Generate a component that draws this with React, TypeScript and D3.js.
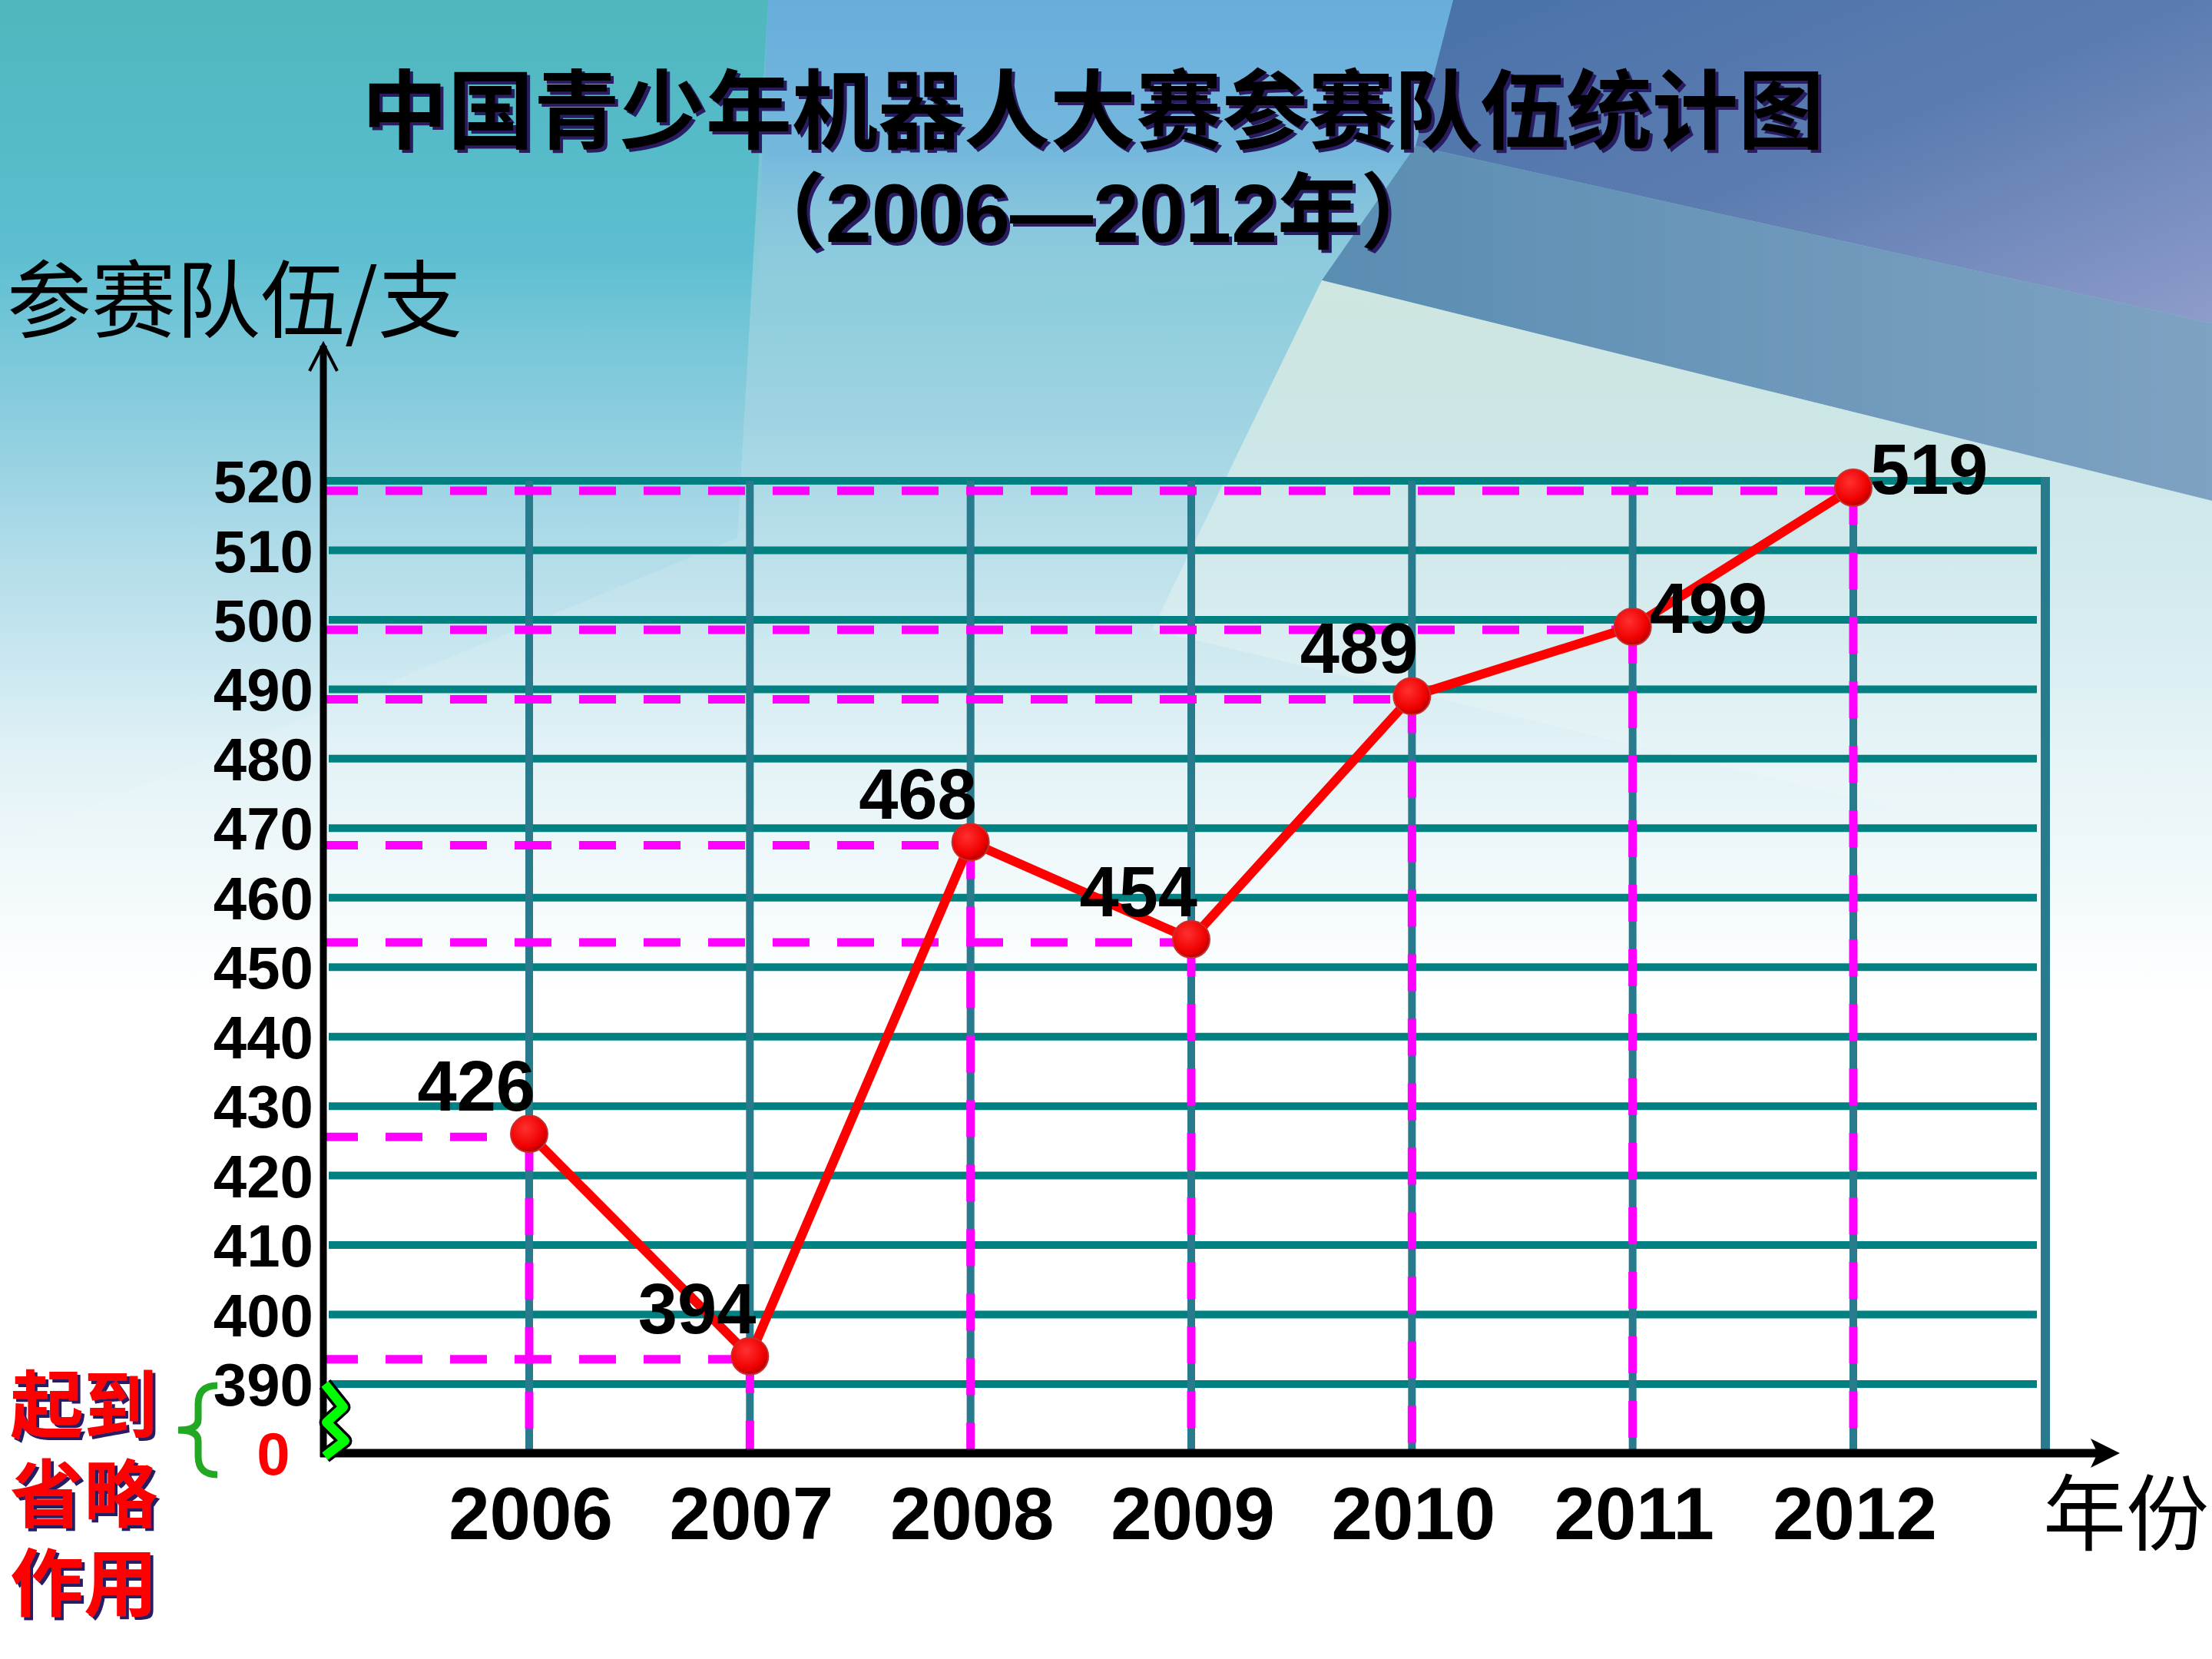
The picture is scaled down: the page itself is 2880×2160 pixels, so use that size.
import React from "react";
import * as d3 from "d3";

// 数据
const years = ["2006", "2007", "2008", "2009", "2010", "2011", "2012"];
const teams = [426, 394, 468, 454, 489, 499, 519];
const yTicks = [390, 400, 410, 420, 430, 440, 450, 460, 470, 480, 490, 500, 510, 520];
const titleText = "中国青少年机器人大赛参赛队伍统计图";
const subtitleText = "（2006—2012年）";
const yAxisTitle = "参赛队伍/支";
const xAxisTitle = "年份";
const noteLines = ["起到", "省略", "作用"];

const W = 2880;
const H = 2160;
const axisX = 421;
const axisY = 1892;
const gridRight = 2652;
const frameX = 2663;

const numFont = "'Liberation Sans', Arial, sans-serif";
const cjkFont = "'Noto Sans CJK SC', 'Noto Sans', sans-serif";

type Pt = { year: string; value: number };

export default function App() {
  const data: Pt[] = years.map((year, i) => ({ year, value: teams[i] }));

  const x = d3.scalePoint<string>().domain(years).range([689, 2413]);
  // broken axis: 0 sits one step below 390
  const y = d3.scaleLinear().domain([0, 390, 520]).range([axisY, 1802, 626]);

  const line = d3
    .line<Pt>()
    .x((d) => x(d.year)!)
    .y((d) => y(d.value));

  const top = y(520);
  const zig = `M${axisX + 2},${y(390)} L${axisX + 26},${y(390) + 30} L${axisX + 4},${y(390) + 50} L${axisX + 28},${y(390) + 74} L${axisX + 2},${axisY + 4}`;

  return (
    <svg
      width={W}
      height={H}
      viewBox={`0 0 ${W} ${H}`}
      style={{ position: "absolute", left: 0, top: 0, display: "block" }}
    >
      <defs>
        <linearGradient id="bg" x1="0" y1="0" x2="0" y2="1">
          <stop offset="0" stopColor="#62bccb" />
          <stop offset="0.25" stopColor="#9fd3e2" />
          <stop offset="0.45" stopColor="#e2f2f6" />
          <stop offset="0.6" stopColor="#ffffff" />
          <stop offset="1" stopColor="#ffffff" />
        </linearGradient>
        <linearGradient id="teal" x1="0" y1="0" x2="0" y2="1">
          <stop offset="0" stopColor="#4fb7bd" />
          <stop offset="0.3" stopColor="#58bdd0" stopOpacity="0.9" />
          <stop offset="0.65" stopColor="#9cd4e6" stopOpacity="0.35" />
          <stop offset="1" stopColor="#d8eef6" stopOpacity="0" />
        </linearGradient>
        <linearGradient id="sky" x1="0" y1="0" x2="0" y2="1">
          <stop offset="0" stopColor="#68aedc" />
          <stop offset="0.5" stopColor="#74b6de" stopOpacity="0.9" />
          <stop offset="1" stopColor="#a8d4e6" stopOpacity="0" />
        </linearGradient>
        <linearGradient id="dark" x1="0" y1="0" x2="1" y2="1">
          <stop offset="0" stopColor="#4872aa" />
          <stop offset="0.5" stopColor="#5c7cb0" />
          <stop offset="1" stopColor="#8e9ccb" />
        </linearGradient>
        <linearGradient id="band" x1="0" y1="0" x2="1" y2="0">
          <stop offset="0" stopColor="#5a8db2" />
          <stop offset="1" stopColor="#7ea2c2" />
        </linearGradient>
        <linearGradient id="pale" x1="0" y1="0" x2="0" y2="1">
          <stop offset="0" stopColor="#cfe6e0" />
          <stop offset="1" stopColor="#ffffff" stopOpacity="0" />
        </linearGradient>
        <radialGradient id="dot" cx="0.4" cy="0.35" r="0.7">
          <stop offset="0" stopColor="#ff3030" />
          <stop offset="0.7" stopColor="#f00000" />
          <stop offset="1" stopColor="#a80000" />
        </radialGradient>
        <filter id="shadow" x="-5%" y="-10%" width="110%" height="120%">
          <feDropShadow dx="4" dy="4" stdDeviation="0" floodColor="#2b1b60" floodOpacity="1" />
        </filter>
      </defs>

      {/* background */}
      <rect x={0} y={0} width={W} height={H} fill="url(#bg)" />
      <path d="M0,0 H1000 L960,700 L0,1100 Z" fill="url(#teal)" />
      <path d="M1000,0 H1892 L1843,190 L1721,365 Q1300,390 985,400 Z" fill="url(#sky)" />
      <path d="M1892,0 H2880 V421 L1843,190 Z" fill="url(#dark)" />
      <path d="M1843,190 L2880,421 V652 L1721,365 Z" fill="url(#band)" />
      <path d="M1721,365 L2880,652 V1150 L1500,820 Z" fill="url(#pale)" />

      {/* teal horizontal grid */}
      {yTicks.map((t) => (
        <line
          key={"h" + t}
          x1={t === 520 ? axisX + 4 : 428}
          x2={t === 520 ? frameX + 5 : gridRight}
          y1={y(t)}
          y2={y(t)}
          stroke="#008080"
          strokeWidth={10}
        />
      ))}
      {/* teal vertical grid */}
      {years.map((yr) => (
        <line
          key={"v" + yr}
          x1={x(yr)}
          x2={x(yr)}
          y1={top}
          y2={axisY}
          stroke="#277b8c"
          strokeWidth={10}
        />
      ))}
      <line x1={frameX} x2={frameX} y1={top - 5} y2={axisY} stroke="#277b8c" strokeWidth={12} />

      {/* magenta guide dashes */}
      {data.map((d) => (
        <g key={"m" + d.year} stroke="#ff00ff" strokeWidth={11} strokeDasharray="48 36">
          <line x1={418} x2={x(d.year)} y1={y(d.value) + 4} y2={y(d.value) + 4} />
          <line x1={x(d.year)} x2={x(d.year)} y1={y(d.value)} y2={axisY} />
        </g>
      ))}

      {/* axes */}
      <line x1={axisX} x2={axisX} y1={450} y2={axisY + 5} stroke="#000" strokeWidth={9} />
      <path
        d={`M${axisX - 18},${483} L${axisX},${448} L${axisX + 18},${483}`}
        fill="none"
        stroke="#000"
        strokeWidth={4}
      />
      <line x1={axisX - 4} x2={2735} y1={axisY} y2={axisY} stroke="#000" strokeWidth={11} />
      <path
        d={`M2760,${axisY} L2722,${axisY - 19} L2731,${axisY} L2722,${axisY + 19} Z`}
        fill="#000"
      />

      {/* break zigzag */}
      <path d={zig} fill="none" stroke="#000" strokeWidth={19} strokeLinejoin="round" />
      <path d={zig} fill="none" stroke="#00ff00" strokeWidth={12} strokeLinejoin="round" />

      {/* y tick labels */}
      {yTicks.map((t) => (
        <text
          key={"yl" + t}
          x={408}
          y={y(t)}
          dy="0.36em"
          textAnchor="end"
          fontFamily={numFont}
          fontWeight="bold"
          fontSize={78}
          fill="#000"
        >
          {t}
        </text>
      ))}
      <text
        x={356}
        y={axisY}
        dy="0.36em"
        textAnchor="middle"
        fontFamily={numFont}
        fontWeight="bold"
        fontSize={78}
        fill="#ff0000"
      >
        0
      </text>

      {/* green brace */}
      <path
        d={`M283,1804 Q258,1804 258,1828 L258,1848 Q258,1862 232,1862 Q258,1862 258,1876 L258,1896 Q258,1920 283,1920`}
        fill="none"
        stroke="#22a822"
        strokeWidth={9}
      />

      {/* x tick labels */}
      {years.map((yr) => (
        <text
          key={"xl" + yr}
          x={x(yr)! + 2}
          y={2004}
          textAnchor="middle"
          fontFamily={numFont}
          fontWeight="bold"
          fontSize={96}
          fill="#000"
        >
          {yr}
        </text>
      ))}

      {/* line */}
      <path d={line(data)!} fill="none" stroke="#ff0000" strokeWidth={12} strokeLinejoin="round" />
      {data.map((d) => (
        <circle
          key={"c" + d.year}
          cx={x(d.year)}
          cy={y(d.value)}
          r={24}
          fill="url(#dot)"
          stroke="#c83030"
          strokeWidth={2}
        />
      ))}

      {/* value labels */}
      {data.map((d, i) => {
        const right = i >= data.length - 2;
        return (
          <text
            key={"vl" + d.year}
            x={x(d.year)! + (right ? 22 : 8)}
            y={y(d.value) + (right ? 8 : -30)}
            textAnchor={right ? "start" : "end"}
            fontFamily={numFont}
            fontWeight="bold"
            fontSize={92}
            fill="#000"
          >
            {d.value}
          </text>
        );
      })}

      {/* titles */}
      <text
        x={1423}
        y={185}
        fontFamily={cjkFont}
        fontWeight="bold"
        textAnchor="middle"
        fontSize={112}
        fill="#000"
        filter="url(#shadow)"
      >
        {titleText}
      </text>
      <text
        x={1423}
        y={315}
        fontFamily={numFont + ", " + cjkFont}
        fontWeight="bold"
        textAnchor="middle"
        fontSize={108}
        fill="#000"
        filter="url(#shadow)"
      >
        {subtitleText}
      </text>

      <text x={9} y={431} fontFamily={cjkFont} fontSize={110} fill="#000">
        {yAxisTitle}
      </text>
      <text x={2660} y={2010} fontFamily={cjkFont} fontSize={108} fill="#000">
        {xAxisTitle}
      </text>

      {/* note */}
      <text
        x={13}
        y={1864}
        fontFamily={cjkFont}
        fontWeight="bold"
        fontSize={96}
        fill="#ff0000"
        filter="url(#shadow)"
      >
        {noteLines.map((s, i) => (
          <tspan key={"n" + i} x={13} dy={i === 0 ? 0 : 116}>
            {s}
          </tspan>
        ))}
      </text>
    </svg>
  );
}
